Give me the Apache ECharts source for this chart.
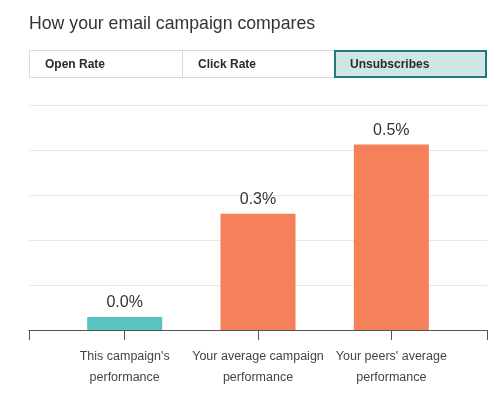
<!DOCTYPE html>
<html>
<head>
<meta charset="utf-8">
<script src="https://cdn.jsdelivr.net/npm/echarts@6/dist/echarts.min.js"></script>
<style>html,body{margin:0;padding:0;background:#fff}#c{width:500px;height:396px}</style>
</head>
<body>
<div id="c"></div>
<script>
var categories = ["This campaign's\nperformance", "Your average campaign\nperformance", "Your peers' average\nperformance"];
var values = [0.035, 0.31, 0.495];
var barColors = ['#57c4c1', '#f5805a', '#f5805a'];
var tabs = ['Open Rate', 'Click Rate', 'Unsubscribes'];
var selectedTab = 2;
var yMax = 0.6, yInterval = 0.12;

var FONT = 'Liberation Sans';
var chart = echarts.init(document.getElementById('c'), null, {renderer: 'canvas'});

var tabW = 458 / tabs.length;
var graphics = [
  {type: 'rect', shape: {x: 29.5, y: 50.5, width: 457, height: 27}, style: {fill: '#fff', stroke: '#d9d9d9', lineWidth: 1}}
];
tabs.forEach(function (t, i) {
  var x0 = 29 + i * tabW;
  if (i > 0) graphics.push({type: 'line', shape: {x1: Math.round(x0) + 0.5, y1: 50, x2: Math.round(x0) + 0.5, y2: 78}, style: {stroke: '#d9d9d9', lineWidth: 1}});
  if (i === selectedTab) {
    graphics.push({type: 'rect', shape: {x: Math.round(x0) + 1, y: 51, width: 486 - Math.round(x0) - 1, height: 26}, style: {fill: '#cee6e6', stroke: '#1d7b84', lineWidth: 2}});
  }
  graphics.push({type: 'text', x: Math.round(x0) + 16, y: 65, style: {text: t, fill: '#2b2b2b', font: 'bold 12px ' + FONT, textVerticalAlign: 'middle'}});
});

chart.setOption({
  animation: false,
  title: {text: 'How your email campaign compares', left: 29, top: 15, padding: 0, textStyle: {fontFamily: FONT, fontSize: 17.7, fontWeight: 'normal', color: '#333'}},
  graphic: graphics,
  grid: [
    {left: 29, right: 13, top: 105, bottom: 66},
    {left: 58, right: 42, top: 105, bottom: 66}
  ],
  xAxis: [
    {gridIndex: 0, type: 'value', min: 0, max: 1, interval: 1,
      axisLine: {show: true, lineStyle: {color: '#555', width: 1}},
      axisTick: {show: true, length: 10, lineStyle: {color: '#555'}},
      axisLabel: {show: false}, splitLine: {show: false}},
    {gridIndex: 1, type: 'category', data: categories,
      axisLine: {show: false},
      axisTick: {show: true, alignWithLabel: true, length: 10, lineStyle: {color: '#555'}},
      axisLabel: {fontFamily: FONT, fontSize: 12.5, lineHeight: 21, color: '#444', margin: 16, interval: 0}}
  ],
  yAxis: [
    {gridIndex: 0, type: 'value', min: 0, max: yMax, interval: yInterval,
      axisLine: {show: false}, axisTick: {show: false}, axisLabel: {show: false},
      splitLine: {lineStyle: {color: '#e8e8e8', width: 1}}},
    {gridIndex: 1, type: 'value', min: 0, max: yMax, interval: yInterval,
      axisLine: {show: false}, axisTick: {show: false}, axisLabel: {show: false},
      splitLine: {show: false}}
  ],
  series: [{
    type: 'bar', xAxisIndex: 1, yAxisIndex: 1, barWidth: 75,
    data: values.map(function (v, i) { return {value: v, itemStyle: {color: barColors[i]}}; }),
    label: {show: true, position: 'top', distance: 6, fontFamily: FONT, fontSize: 16, color: '#333',
      formatter: function (p) { return p.value.toFixed(1) + '%'; }}
  }]
});
</script>
</body>
</html>
